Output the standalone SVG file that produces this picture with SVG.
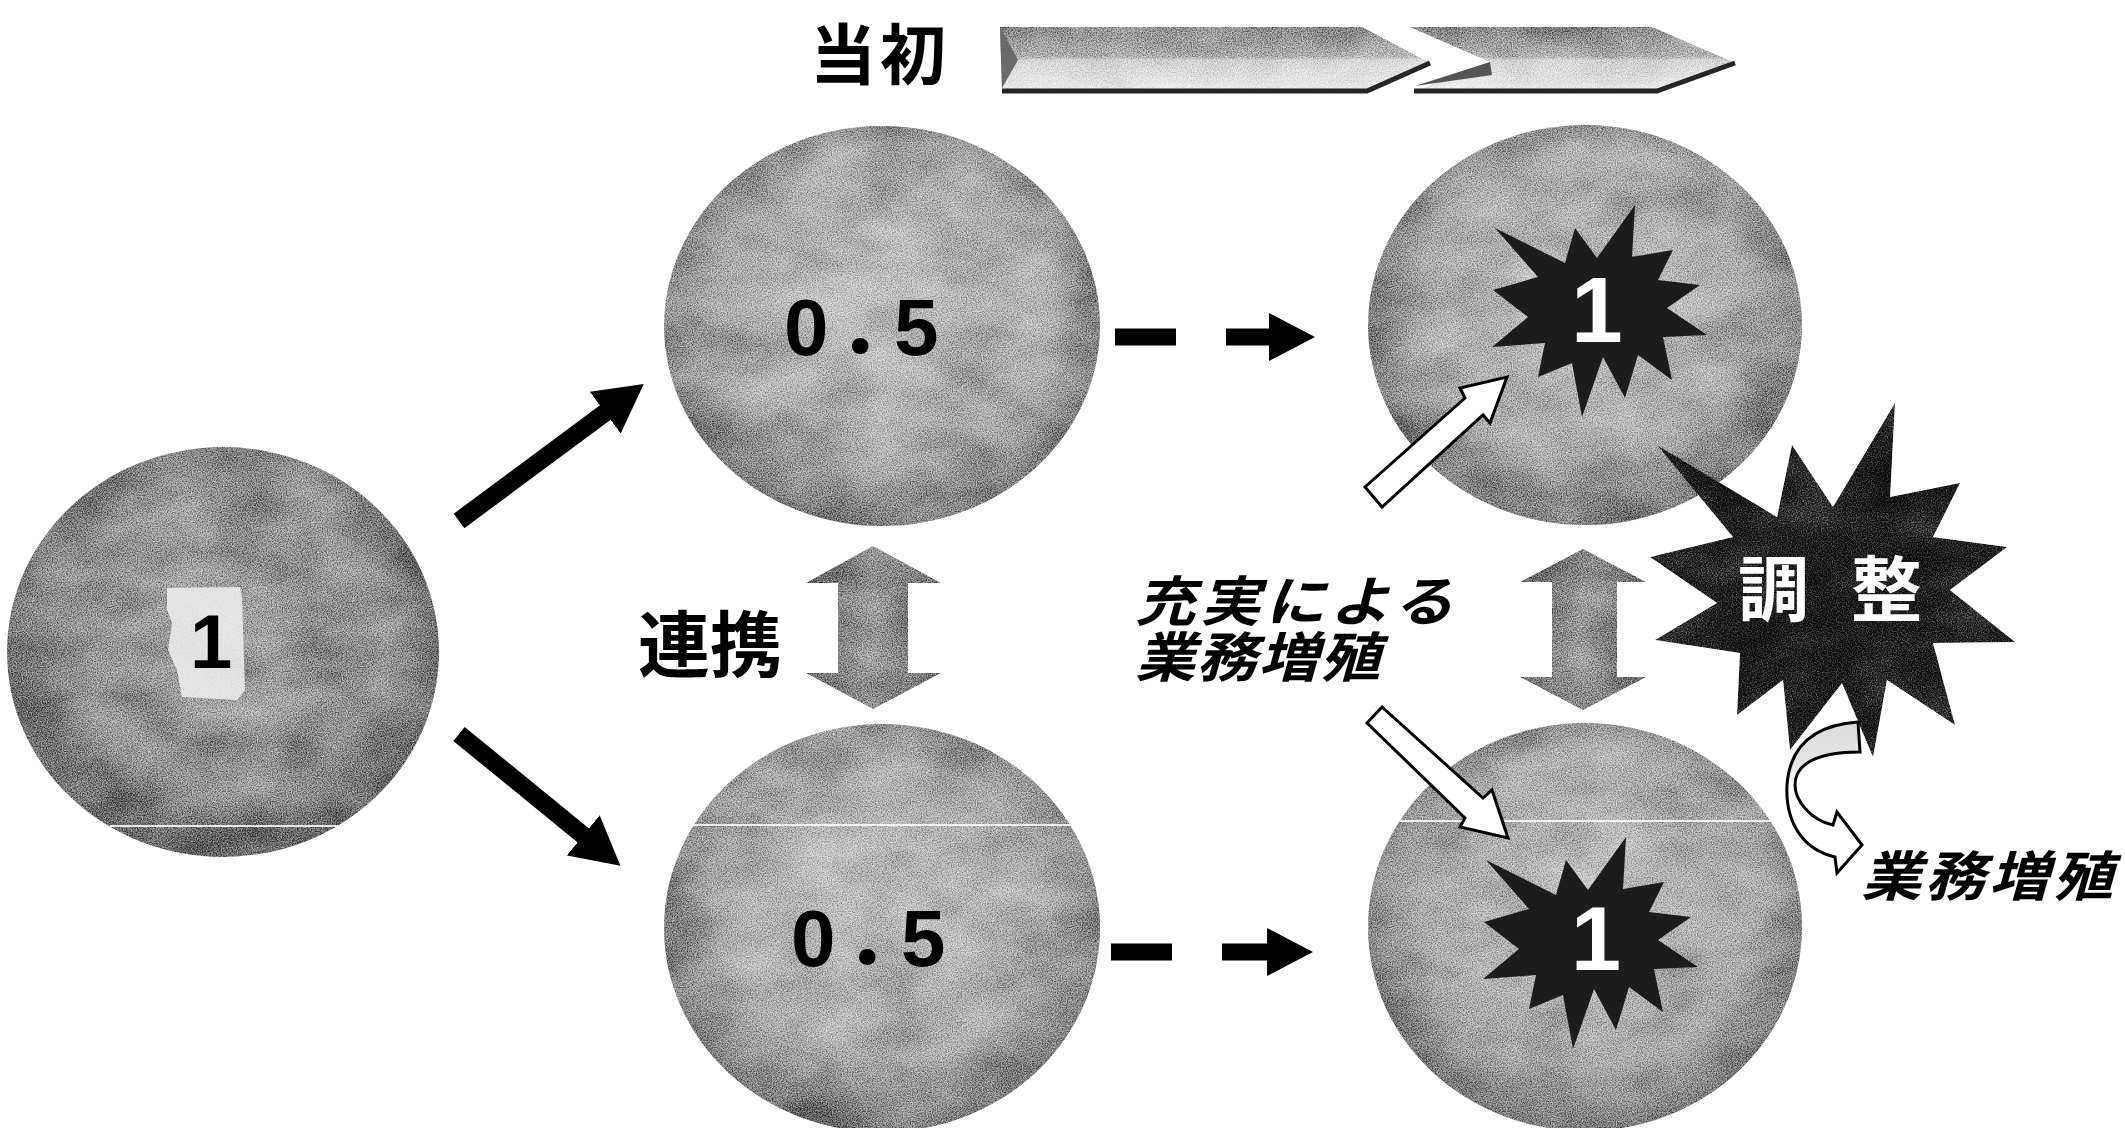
<svg xmlns="http://www.w3.org/2000/svg" width="2125" height="1128" viewBox="0 0 2125 1128">
<defs>
<style>
.jp{font-family:"Noto Sans CJK JP",sans-serif;font-weight:700;fill:#000}
.it{font-family:"Noto Sans CJK JP",sans-serif;font-weight:700;font-style:italic;font-size:54px;fill:#000}
.num{font-family:"Liberation Sans","Noto Sans CJK JP",sans-serif;font-weight:700;fill:#000}
.wnum{font-family:"Liberation Sans",sans-serif;font-weight:700;fill:#fff}
.tex{filter:url(#tex)}
.star{fill:#1c1c1c}
.outline{fill:#fff;stroke:#000;stroke-width:3;stroke-linejoin:miter}
.solid{stroke:#000;stroke-width:18;fill:none}
.dash{stroke:#000;stroke-width:17;fill:none;stroke-dasharray:61 50}
.rim{fill:none;stroke:#262626;stroke-width:5}
.scan{stroke:#fff;stroke-width:2;opacity:.85}
</style>
<radialGradient id="g-ball" cx="0.5" cy="0.45" r="0.55">
<stop offset="0" stop-color="#c2c2c2"/>
<stop offset="0.7" stop-color="#ababab"/>
<stop offset="1" stop-color="#7a7a7a"/>
</radialGradient>
<radialGradient id="g-ball-dark" cx="0.5" cy="0.45" r="0.55">
<stop offset="0" stop-color="#a4a4a4"/>
<stop offset="0.7" stop-color="#929292"/>
<stop offset="1" stop-color="#646464"/>
</radialGradient>
<linearGradient id="g-chev" x1="0" y1="0" x2="0" y2="1">
<stop offset="0" stop-color="#8a8a8a"/>
<stop offset="0.45" stop-color="#b4b4b4"/>
<stop offset="0.5" stop-color="#d8d8d8"/>
<stop offset="1" stop-color="#eeeeee"/>
</linearGradient>
<linearGradient id="g-dbl" x1="0" y1="0" x2="1" y2="0">
<stop offset="0" stop-color="#6a6a6a"/>
<stop offset="0.5" stop-color="#9a9a9a"/>
<stop offset="1" stop-color="#6a6a6a"/>
</linearGradient>
<linearGradient id="g-curve" x1="0" y1="0" x2="0" y2="1">
<stop offset="0" stop-color="#dcdcdc"/>
<stop offset="0.3" stop-color="#e6e6e6"/>
<stop offset="0.42" stop-color="#ffffff"/>
<stop offset="1" stop-color="#ffffff"/>
</linearGradient>
<filter id="tex" x="0" y="0" width="1" height="1" color-interpolation-filters="sRGB">
<feTurbulence type="fractalNoise" baseFrequency="0.014 0.022" numOctaves="3" seed="5" result="lo"/>
<feColorMatrix in="lo" type="matrix" values="0.7 0 0 0 0.15  0.7 0 0 0 0.15  0.7 0 0 0 0.15  0 0 0 0 1" result="log"/>
<feTurbulence type="fractalNoise" baseFrequency="0.8" numOctaves="2" seed="9" result="hi"/>
<feColorMatrix in="hi" type="matrix" values="2 0 0 0 -0.5  2 0 0 0 -0.5  2 0 0 0 -0.5  0 0 0 0 1" result="hig"/>
<feBlend in="log" in2="SourceGraphic" mode="soft-light" result="b1"/>
<feBlend in="hig" in2="b1" mode="soft-light" result="b2"/>
<feComposite in="b2" in2="SourceAlpha" operator="in"/>
</filter>
<marker id="head" viewBox="0 0 48 52" refX="1" refY="26" markerWidth="48" markerHeight="52" markerUnits="userSpaceOnUse" orient="auto">
<path d="M0,0 L48,26 L0,52 Z" fill="#000"/>
</marker>
<marker id="dhead" viewBox="0 0 46 48" refX="1" refY="24" markerWidth="46" markerHeight="48" markerUnits="userSpaceOnUse" orient="auto">
<path d="M0,0 L46,24 L0,48 Z" fill="#000"/>
</marker>
<polygon id="burst" points="1635,205 1632,257 1673,250 1658,280 1700,285 1667,308 1707,335 1663,337 1672,380 1638,355 1625,398 1603,357 1582,417 1572,363 1538,377 1545,343 1492,347 1528,317 1493,290 1538,277 1495,228 1565,263 1575,228 1597,258"/>
</defs>

<rect width="2125" height="1128" fill="#fff"/>

<g id="title">
<text class="jp" x="810" y="79" font-size="66" letter-spacing="4">当初</text>
<g id="chevron-1">
<polygon class="tex" points="1000,27 1362,27 1430,63 1367,93 1002,93" fill="url(#g-chev)"/>
<polygon points="1000,27 1018,60 1002,88" fill="#6a6a6a"/>
<polyline class="rim" points="1002,91 1367,91 1430,63"/>
</g>
<g id="chevron-2">
<polygon class="tex" points="1410,27 1652,27 1735,63 1657,93 1412,93 1490,62" fill="url(#g-chev)"/>
<polygon points="1490,62 1415,86 1492,75" fill="#555"/>
<polyline class="rim" points="1414,91 1657,91 1735,63"/>
</g>
</g>

<g id="node-left">
<ellipse class="tex" cx="223" cy="652" rx="216" ry="205" fill="url(#g-ball-dark)"/>
<polygon points="167,588 240,587 242,597 245,690 237,700 182,697 177,670 168,650 172,623 167,610" fill="#f0f0f0" opacity="0.85"/>
<line class="scan" x1="110" y1="826" x2="338" y2="826"/>
<text class="num" x="190" y="668" font-size="76">1</text>
</g>

<g id="node-top-mid">
<ellipse class="tex" cx="882" cy="326" rx="218" ry="200" fill="url(#g-ball)"/>
<text class="num" x="784 838 894" y="355" font-size="80">0．5</text>
</g>

<g id="node-bottom-mid">
<ellipse class="tex" cx="882" cy="928" rx="218" ry="204" fill="url(#g-ball)"/>
<line class="scan" x1="693" y1="825" x2="1071" y2="825"/>
<text class="num" x="791 845 901" y="966" font-size="80">0．5</text>
</g>

<g id="node-top-right">
<ellipse class="tex" cx="1585" cy="325" rx="217" ry="200" fill="url(#g-ball)"/>
<use href="#burst" class="star"/>
<text class="wnum" x="1571" y="342" font-size="93">1</text>
</g>

<g id="node-bottom-right">
<ellipse class="tex" cx="1585" cy="927" rx="217" ry="204" fill="url(#g-ball)"/>
<line class="scan" x1="1400" y1="821" x2="1770" y2="821" opacity="0.3"/>
<use href="#burst" class="star" transform="translate(-9,632)"/>
<text class="wnum" x="1571" y="970" font-size="90">1</text>
</g>

<g id="label-renkei">
<text class="jp" x="638" y="671" font-size="72">連携</text>
</g>

<g id="label-jujitsu">
<text class="it" transform="translate(1135,621) scale(1.12,1)" letter-spacing="4">充実による</text>
<text class="it" transform="translate(1135,677) scale(1.12,1)" letter-spacing="1">業務増殖</text>
</g>

<g id="node-chosei">
<polygon class="star tex" points="1895,403 1890,497 1960,483 1933,537 2007,547 1950,590 2015,642 1933,643 1955,725 1887,680 1873,757 1842,683 1790,750 1783,680 1737,715 1740,653 1655,640 1717,603 1650,557 1733,537 1657,445 1777,517 1792,445 1833,507"/>
<text class="jp" x="1738" y="615" font-size="71" style="fill:#fff">調 <tspan x="1851">整</tspan></text>
</g>

<g id="label-zoushoku">
<text class="it" transform="translate(1861,896) scale(1.12,1)" letter-spacing="3">業務増殖</text>
</g>

<g id="connectors">
<line class="solid" x1="459" y1="521" x2="606" y2="412" marker-end="url(#head)"/>
<line class="solid" x1="459" y1="734" x2="584" y2="836" marker-end="url(#head)"/>
<line class="dash" x1="1115" y1="337" x2="1270" y2="337" marker-end="url(#dhead)"/>
<line class="dash" x1="1111" y1="952" x2="1268" y2="952" marker-end="url(#dhead)"/>
<path class="tex" d="M873,546 L941,583 L908,583 L908,673 L941,673 L873,709 L806,673 L838,673 L838,583 L806,583 Z" fill="url(#g-dbl)"/>
<path class="tex" d="M1583,549 L1646,582 L1617,582 L1617,677 L1646,677 L1583,710 L1520,677 L1552,677 L1552,582 L1520,582 Z" fill="url(#g-dbl)"/>
<path class="outline" d="M1365,487 L1465,398 L1460,388 L1507,377 L1490,423 L1483,415 L1382,507 Z"/>
<path class="outline" d="M1382,707 L1483,798 L1492,790 L1508,838 L1460,827 L1465,818 L1367,723 Z"/>
<path class="outline" style="fill:url(#g-curve)" d="M1858,722 C1815,725 1790,745 1787,785 C1785,825 1805,850 1835,857 L1837,873 L1862,845 L1837,812 L1833,825 C1810,820 1795,800 1795,785 C1795,765 1815,752 1860,752 Z"/>
</g>
</svg>
